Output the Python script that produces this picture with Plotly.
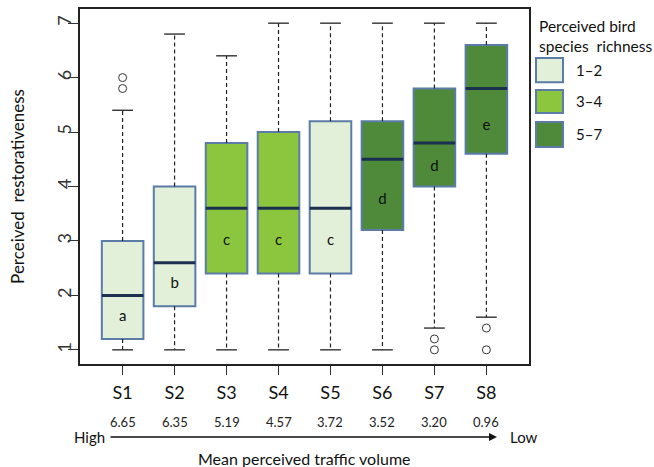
import plotly.graph_objects as go

# ---- data ----
sites = ["S1", "S2", "S3", "S4", "S5", "S6", "S7", "S8"]
traffic = ["6.65", "6.35", "5.19", "4.57", "3.72", "3.52", "3.20", "0.96"]
richness = ["1–2", "1–2", "3–4", "3–4", "1–2", "5–7", "5–7", "5–7"]
q1 = [1.2, 1.8, 2.4, 2.4, 2.4, 3.2, 4.0, 4.6]
median = [2.0, 2.6, 3.6, 3.6, 3.6, 4.5, 4.8, 5.8]
q3 = [3.0, 4.0, 4.8, 5.0, 5.2, 5.2, 5.8, 6.6]
lower = [1.0, 1.0, 1.0, 1.0, 1.0, 1.0, 1.4, 1.6]
upper = [5.4, 6.8, 6.4, 7.0, 7.0, 7.0, 7.0, 7.0]
outliers = {"S1": [5.8, 6.0], "S7": [1.0, 1.2], "S8": [1.0, 1.4]}
letters = ["a", "b", "c", "c", "c", "d", "d", "e"]
letter_y = [1.6, 2.2, 3.0, 3.0, 3.0, 3.75, 4.35, 5.1]
groups = ["1–2", "3–4", "5–7"]
legend_title = "Perceived bird<br>species  richness"

# ---- styles ----
group_color = {"1–2": "#E2EFD9", "3–4": "#8CC63F", "5–7": "#4E8A3A"}
border = "#5A7CA6"
median_color = "#1B2F4F"
FONT = "Lato"
BOXW = 0.8
CAPW = 0.4

pos = list(range(1, len(sites) + 1))

fig = go.Figure()

# whiskers (dashed)
wx, wy = [], []
for p, a, b, lo, hi in zip(pos, q1, q3, lower, upper):
    wx += [p, p, None, p, p, None]
    wy += [b, hi, None, a, lo, None]
fig.add_trace(go.Scatter(x=wx, y=wy, mode="lines", showlegend=False, hoverinfo="skip",
                         line=dict(color="#222", width=1.2, dash="4px,3px")))
# caps
cx, cy = [], []
for p, lo, hi in zip(pos, lower, upper):
    cx += [p - CAPW / 2, p + CAPW / 2, None, p - CAPW / 2, p + CAPW / 2, None]
    cy += [hi, hi, None, lo, lo, None]
fig.add_trace(go.Scatter(x=cx, y=cy, mode="lines", showlegend=False, hoverinfo="skip",
                         line=dict(color="#222", width=1.3)))

# boxes
fig.add_trace(go.Bar(x=pos, base=q1, y=[b - a for a, b in zip(q1, q3)], width=BOXW,
                     marker=dict(color=[group_color[g] for g in richness],
                                 line=dict(color=border, width=2)),
                     showlegend=False, hoverinfo="skip"))

# medians
mx, my = [], []
for p, m in zip(pos, median):
    mx += [p - BOXW / 2, p + BOXW / 2, None]
    my += [m, m, None]
fig.add_trace(go.Scatter(x=mx, y=my, mode="lines", showlegend=False, hoverinfo="skip",
                         line=dict(color=median_color, width=3)))

# outliers
ox, oy = [], []
for s, vals in outliers.items():
    for v in vals:
        ox.append(pos[sites.index(s)])
        oy.append(v)
fig.add_trace(go.Scatter(x=ox, y=oy, mode="markers", showlegend=False, hoverinfo="skip",
                         marker=dict(symbol="circle-open", size=8, color="#333",
                                     line=dict(width=1))))

# letters
fig.add_trace(go.Scatter(x=pos, y=letter_y, mode="text", text=letters, showlegend=False,
                         hoverinfo="skip", textfont=dict(family=FONT, size=15, color="#111")))

annotations = []
shapes = []
# traffic values row
for p, t in zip(pos, traffic):
    annotations.append(dict(x=p, y=-0.162, xref="x", yref="paper", text=t, showarrow=False,
                            yanchor="middle", font=dict(family=FONT, size=13, color="#222")))
# arrow High -> Low
annotations.append(dict(x=8.204, y=-0.2056, xref="x", yref="paper", text="", showarrow=True,
                        ax=-388, ay=0, axref="pixel", ayref="pixel", arrowhead=2, arrowsize=1,
                        arrowwidth=1.6, arrowcolor="#111"))
annotations.append(dict(x=0.70, y=-0.2056, xref="x", yref="paper", text="High", showarrow=False,
                        xanchor="right", yanchor="middle", font=dict(family=FONT, size=15, color="#111")))
annotations.append(dict(x=8.415, y=-0.2056, xref="x", yref="paper", text="Low", showarrow=False,
                        xanchor="left", yanchor="middle", font=dict(family=FONT, size=15, color="#111")))
annotations.append(dict(x=4.5, y=-0.265, xref="x", yref="paper", text="Mean perceived traffic volume",
                        showarrow=False, yanchor="middle", font=dict(family=FONT, size=16, color="#111")))

# legend (manual)
annotations.append(dict(x=1.018, y=0.924, xref="paper", yref="paper", text=legend_title,
                        showarrow=False, xanchor="left", yanchor="middle", align="left",
                        font=dict(family=FONT, size=15.5, color="#111")))
leg_y = [(0.862, 0.794), (0.772, 0.707), (0.682, 0.611)]
for g, (y1, y0) in zip(groups, leg_y):
    shapes.append(dict(type="rect", xref="paper", yref="paper", x0=1.0156, x1=1.0757,
                       y0=y0, y1=y1, fillcolor=group_color[g], line=dict(color=border, width=2)))
    annotations.append(dict(x=1.100, y=(y0 + y1) / 2, xref="paper", yref="paper", text=g,
                            showarrow=False, xanchor="left", yanchor="middle",
                            font=dict(family=FONT, size=15, color="#111")))

fig.update_layout(
    width=654, height=467,
    margin=dict(l=80, r=125, t=9, b=103),
    plot_bgcolor="white", paper_bgcolor="white",
    barmode="overlay",
    annotations=annotations, shapes=shapes,
    font=dict(family=FONT, color="#111"),
    xaxis=dict(range=[0.18, 8.82], tickmode="array", tickvals=pos, ticktext=sites,
               ticks="outside", ticklen=9, tickcolor="#333", tickwidth=1.3,
               tickfont=dict(family=FONT, size=18, color="#111"), ticklabelstandoff=3,
               showline=True, mirror=True, linecolor="#222", linewidth=1.5,
               showgrid=False, zeroline=False, automargin=False),
    yaxis=dict(range=[0.74, 7.26], tickmode="array", tickvals=[1, 2, 3, 4, 5, 6, 7],
               tickangle=-90, ticks="outside", ticklen=10, tickcolor="#333", tickwidth=1.3,
               tickfont=dict(family=FONT, size=18, color="#333"), ticklabelstandoff=-10,
               showline=True, mirror=True, linecolor="#222", linewidth=1.5,
               showgrid=False, zeroline=False, automargin=False,
               title=dict(text="Perceived  restorativeness", standoff=24,
                          font=dict(family=FONT, size=17, color="#111"))),
)

fig.write_html("out.html", config={"displayModeBar": False},
               post_script="document.body.style.margin='0';")
